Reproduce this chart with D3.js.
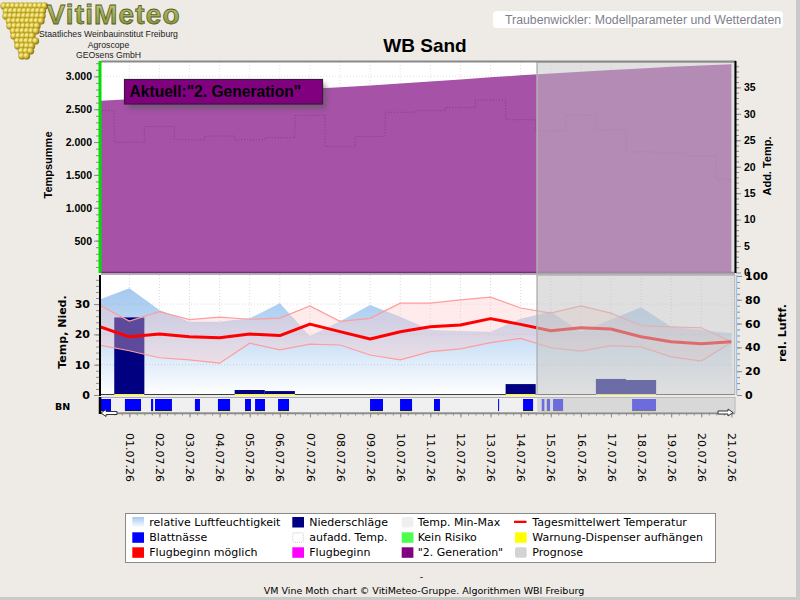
<!DOCTYPE html>
<html><head><meta charset="utf-8">
<script src="https://cdn.jsdelivr.net/npm/d3@7"></script>
<style>body{margin:0;background:#eeebe6;overflow:hidden} svg{display:block}</style>
</head><body>
<svg id="c" width="800" height="600"></svg>
<script>
// ---------------- DATA ----------------
const dates = ["30.06.26","01.07.26","02.07.26","03.07.26","04.07.26","05.07.26","06.07.26","07.07.26","08.07.26","09.07.26","10.07.26","11.07.26","12.07.26","13.07.26","14.07.26","15.07.26","16.07.26","17.07.26","18.07.26","19.07.26","20.07.26","21.07.26"];
const tickDates = dates.slice(1);
const humidity = [80,89.7,71.4,61.6,61.6,64.4,77,49.6,62,75.6,65.8,54.6,53.8,53.2,64,70,53.2,63.5,73.7,57.4,54.6,51.8];
const tempMean = [22.6,19.2,20.1,19.2,18.9,20.1,19.6,23.4,20.9,18.5,20.9,22.5,23.1,25.2,23.3,21.2,22.2,21.8,19.2,17.6,16.9,17.6];
const tempMax  = [29.7,24.4,27.5,24.9,25.7,25.0,25.4,29.4,24.3,25.3,30.3,30.3,31.4,32.3,28.7,27.0,29.4,27.0,22.9,22.5,22.2,17.6];
const tempMin  = [16.5,14.6,12.3,11.6,10.5,17.1,14.9,16.8,16.5,13.2,11.6,14.3,15.2,17.3,18.7,15.6,14.5,16.3,15.9,12.6,11.2,17.4];
const precip   = [0,25.6,0,0,0,1.65,1.3,0,0,0,0,0,0,0,3.6,0,0,5.3,4.95,0,0,0];
const addTemp  = [30.6,24.6,27.6,25.1,25.8,25.1,25.5,29.7,23.8,25.7,30.3,30.6,31.2,32.6,28.9,26.8,29.7,27.0,22.8,22.6,22.1,17.6];
const tempSum  = [2628,2653,2680,2705,2731,2756,2782,2811,2835,2861,2891,2922,2953,2986,3015,3042,3071,3098,3121,3144,3166,3184];
const leafWetness = [
 ["30.06.26 01:26","30.06.26 09:25"],["30.06.26 20:30","01.07.26 09:20"],["01.07.26 17:20","01.07.26 19:00"],
 ["01.07.26 20:30","02.07.26 10:00"],["03.07.26 04:20","03.07.26 08:20"],["03.07.26 22:40","04.07.26 08:20"],
 ["04.07.26 20:15","05.07.26 01:00"],["05.07.26 04:15","05.07.26 12:10"],["05.07.26 22:35","06.07.26 07:20"],
 ["08.07.26 23:55","09.07.26 10:15"],["09.07.26 23:50","10.07.26 09:25"],["11.07.26 02:55","11.07.26 07:40"],
 ["13.07.26 06:00","13.07.26 06:50"],["14.07.26 01:55","14.07.26 09:55"],["14.07.26 16:50","14.07.26 18:55"],
 ["14.07.26 20:50","14.07.26 23:25"],["15.07.26 01:50","15.07.26 09:50"],["17.07.26 16:50","18.07.26 11:55"]];
const forecastStart = "14.07.26 13:05";
const xDomain = ["30.06.26 01:26","21.07.26 02:53"];
const tsTicks = [500,1000,1500,2000,2500,3000];
const addTicks = [0,5,10,15,20,25,30,35];
const tTicks = [0,10,20,30];
const hTicks = [0,20,40,60,80,100];
const title = "WB Sand";
const headerText = "Traubenwickler: Modellparameter und Wetterdaten";
const annotation = "Aktuell:\"2. Generation\"";
const legendItems = [
 ["relative Luftfeuchtigkeit","grad"],["Blattnässe","#0000ff"],["Flugbeginn möglich","#ff0000"],
 ["Niederschläge","#000080"],["aufadd. Temp.","dotted"],["Flugbeginn","#ff00ff"],
 ["Temp. Min-Max","#efefef"],["Kein Risiko","#4cff4c"],["\"2. Generation\"","#800080"],
 ["Tagesmittelwert Temperatur","line"],["Warnung-Dispenser aufhängen","#ffff00"],["Prognose","#d3d3d3"]];

// ---------------- SETUP ----------------
const pD = d3.timeParse("%d.%m.%y"), pDT = d3.timeParse("%d.%m.%y %H:%M");
const day = dates.map(pD);
const svg = d3.select("#c");
const defs = svg.append("defs");
const L = 101, R = 735;
const TOP = [62, 273.5], MID = [275, 395], BN = [397, 413];
const x = d3.scaleTime().domain(xDomain.map(pDT)).range([L, R]);
const yTS = d3.scaleLinear().domain([0, 3218]).range([TOP[1], TOP[0]]);
const yAdd = d3.scaleLinear().domain([0, 39.8]).range([272.5, TOP[0]]);
const yT = d3.scaleLinear().domain([0, 39.6]).range([MID[1], MID[0]]);
const yH = d3.scaleLinear().domain([0, 100.8]).range([MID[1], MID[0]]);
const fDE = d3.formatLocale({decimal:",",thousands:".",grouping:[3],currency:["","€"]}).format(",");
const xf = x(pDT(forecastStart));
const half = d => d3.timeHour.offset(d, 12), mhalf = d => d3.timeHour.offset(d, -12);

defs.append("clipPath").attr("id","clipTop").append("rect").attr("x",L).attr("y",TOP[0]).attr("width",R-L).attr("height",TOP[1]-TOP[0]);
defs.append("clipPath").attr("id","clipMid").append("rect").attr("x",L).attr("y",MID[0]).attr("width",R-L).attr("height",MID[1]-MID[0]);
defs.append("clipPath").attr("id","clipBN").append("rect").attr("x",L).attr("y",BN[0]).attr("width",R-L).attr("height",BN[1]-BN[0]);
const gr = defs.append("linearGradient").attr("id","hum").attr("gradientUnits","userSpaceOnUse").attr("x1",0).attr("x2",0).attr("y1",284).attr("y2",MID[1]);
gr.append("stop").attr("offset","0").attr("stop-color","#a3c8ef");
gr.append("stop").attr("offset","0.35").attr("stop-color","#b9d5f3");
gr.append("stop").attr("offset","1").attr("stop-color","#ffffff");
const gr2 = defs.append("linearGradient").attr("id","humLeg").attr("x1",0).attr("x2",0).attr("y1",0).attr("y2",1);
gr2.append("stop").attr("offset","0").attr("stop-color","#a6caef");
gr2.append("stop").attr("offset","1").attr("stop-color","#ffffff");
const sh = defs.append("filter").attr("id","shadow").attr("x","-20%").attr("y","-50%").attr("width","140%").attr("height","200%");
sh.append("feGaussianBlur").attr("stdDeviation",2.5);
const grape = defs.append("radialGradient").attr("id","grape").attr("cx","35%").attr("cy","35%").attr("r","65%");
grape.append("stop").attr("offset","0").attr("stop-color","#fff8b0");
grape.append("stop").attr("offset","0.5").attr("stop-color","#d9c23a");
grape.append("stop").attr("offset","1").attr("stop-color","#8a7414");
const vmg = defs.append("linearGradient").attr("id","vm").attr("x1",0).attr("x2",0).attr("y1",0).attr("y2",1);
vmg.append("stop").attr("offset","0").attr("stop-color","#c7cf86");
vmg.append("stop").attr("offset","1").attr("stop-color","#7b8a2e");

// page border
svg.append("rect").attr("x",796).attr("y",0).attr("width",4).attr("height",600).attr("fill","#c9c9c9");
svg.append("rect").attr("x",0).attr("y",597).attr("width",800).attr("height",3).attr("fill","#c9c9c9");

// ---------------- LOGO ----------------
const lg = svg.append("g");
const rows = [[4,20],[9,19],[14,18],[19,16],[24,14],[29,12],[34,10],[39,8],[44,6],[49,4],[54,2]];
rows.forEach(([cy,n],ri)=>{
  const w = n*2; for(let i=0;i<=Math.max(1,Math.round(w/4.5));i++){
    const cx = 24 - w/2 + i*4.5 + (ri%2?1.5:0);
    lg.append("circle").attr("cx",cx).attr("cy",cy+2).attr("r",3.6).attr("fill","url(#grape)").attr("stroke","#9c8420").attr("stroke-width",0.3);
  }});
lg.append("text").attr("x",113).attr("y",24).attr("text-anchor","middle").attr("font-family","Liberation Sans, Arial").attr("font-weight","bold").attr("font-size",28)
  .attr("textLength",133).attr("fill","url(#vm)").attr("stroke","#56601c").attr("stroke-width",0.8).text("VitiMeteo");
[["Staatliches Weinbauinstitut Freiburg",37],["Agroscope",47.5],["GEOsens GmbH",58]].forEach(([t,yy])=>{
  lg.append("text").attr("x",108.5).attr("y",yy).attr("text-anchor","middle").attr("font-family","Liberation Sans, Arial").attr("font-size",8.7).attr("fill","#222").text(t);});

// header box
svg.append("rect").attr("x",493).attr("y",11).attr("width",290).attr("height",17).attr("rx",4).attr("fill","#fff");
svg.append("text").attr("x",505).attr("y",24).attr("font-family","Liberation Sans, Arial").attr("font-size",12.3).attr("fill","#7f7f8c").text(headerText);
// title
svg.append("text").attr("x",425).attr("y",52).attr("text-anchor","middle").attr("font-family","Liberation Sans, Arial").attr("font-weight","bold").attr("font-size",19).attr("fill","#000").text(title);

// ---------------- TOP PANEL ----------------
svg.append("rect").attr("x",L).attr("y",TOP[0]).attr("width",R-L).attr("height",TOP[1]-TOP[0]).attr("fill","#fff");
const gTop = svg.append("g").attr("clip-path","url(#clipTop)");
gTop.append("path").attr("fill","#a552a7")
  .attr("d", d3.area().x(d=>x(d)).y0(yTS(0)).y1((d,i)=>yTS(tempSum[i]))(day));
gTop.append("path").attr("fill","none").attr("stroke","#6e2a70").attr("stroke-opacity",0.55).attr("stroke-width",1).attr("stroke-dasharray","1,2")
  .attr("d", d3.line().curve(d3.curveStep).x(d=>x(d)).y((d,i)=>yAdd(addTemp[i]))(day));
// grid
gTop.selectAll(".gv").data(tickDates.map(pD)).join("line").attr("x1",d=>x(d)).attr("x2",d=>x(d)).attr("y1",TOP[0]).attr("y2",TOP[1])
  .attr("stroke","rgba(120,120,120,0.22)").attr("stroke-dasharray","1,2");
gTop.selectAll(".gh").data(tsTicks).join("line").attr("x1",L).attr("x2",R).attr("y1",d=>yTS(d)).attr("y2",d=>yTS(d))
  .attr("stroke","rgba(120,120,120,0.22)").attr("stroke-dasharray","1,2");
gTop.append("line").attr("x1",L).attr("x2",R).attr("y1",272.5).attr("y2",272.5).attr("stroke","#7a2a7c").attr("stroke-width",1.5);
// forecast overlay
gTop.append("rect").attr("x",xf).attr("y",TOP[0]).attr("width",R-xf).attr("height",TOP[1]-TOP[0]).attr("fill","rgba(196,196,196,0.5)").attr("stroke","#b4b4b4").attr("stroke-width",1.5);
// frame
svg.append("line").attr("x1",L).attr("x2",R+1).attr("y1",61.5).attr("y2",61.5).attr("stroke","#8a8a8a").attr("stroke-width",2);

// annotation
svg.append("rect").attr("x",128).attr("y",84).attr("width",198).attr("height",24.5).attr("fill","#555").attr("opacity",0.55).attr("filter","url(#shadow)");
svg.append("rect").attr("x",124.5).attr("y",79.5).attr("width",198).attr("height",24.5).attr("fill","#800080").attr("stroke","#3a1a3a").attr("stroke-width",1.2);
svg.append("text").attr("x",129.5).attr("y",97).attr("font-family","Liberation Sans, Arial").attr("font-weight","bold").attr("font-size",15.6).attr("fill","#000").text(annotation);

// ---------------- MID PANEL ----------------
svg.append("rect").attr("x",L).attr("y",MID[0]).attr("width",R-L).attr("height",MID[1]-MID[0]).attr("fill","#fff");
const gMid = svg.append("g").attr("clip-path","url(#clipMid)");
gMid.selectAll(".gv").data(tickDates.map(pD)).join("line").attr("x1",d=>x(d)).attr("x2",d=>x(d)).attr("y1",MID[0]).attr("y2",MID[1])
  .attr("stroke","#d8d8d8").attr("stroke-dasharray","1,2");
gMid.append("path").attr("fill","url(#hum)")
  .attr("d", d3.area().x(d=>x(d)).y0(yH(0)).y1((d,i)=>yH(humidity[i]))(day));
gMid.selectAll(".gh").data(tTicks.slice(1)).join("line").attr("x1",L).attr("x2",R).attr("y1",d=>yT(d)).attr("y2",d=>yT(d))
  .attr("stroke","rgba(150,150,150,0.35)").attr("stroke-dasharray","1,2");
const pr = day.map((d,i)=>({d,v:precip[i]})).filter(o=>o.v>0);
gMid.selectAll(".bar").data(pr).join("rect").attr("x",o=>x(mhalf(o.d))).attr("width",o=>x(half(o.d))-x(mhalf(o.d)))
  .attr("y",o=>yT(o.v)).attr("height",o=>yT(0)-yT(o.v)).attr("fill","#000080");
gMid.append("path").attr("fill","rgb(255,200,200)").attr("fill-opacity",0.37)
  .attr("d", d3.area().x(d=>x(d)).y0((d,i)=>yT(tempMin[i])).y1((d,i)=>yT(tempMax[i]))(day));
[tempMin,tempMax].forEach(arr=>gMid.append("path").attr("fill","none").attr("stroke","#ff9c9c").attr("stroke-width",1.2)
  .attr("d", d3.line().x(d=>x(d)).y((d,i)=>yT(arr[i]))(day)));
gMid.append("path").attr("fill","none").attr("stroke","#ff0000").attr("stroke-width",3).attr("stroke-linejoin","round")
  .attr("d", d3.line().x(d=>x(d)).y((d,i)=>yT(tempMean[i]))(day));
gMid.append("line").attr("x1",L).attr("x2",R).attr("y1",395).attr("y2",395).attr("stroke","#000").attr("stroke-width",1.6);
gMid.selectAll(".yb").data(pr).join("line").attr("x1",o=>x(mhalf(o.d))).attr("x2",o=>x(half(o.d))).attr("y1",394.5).attr("y2",394.5).attr("stroke","#ffff00").attr("stroke-width",1);
gMid.append("rect").attr("x",xf).attr("y",MID[0]).attr("width",R-xf).attr("height",MID[1]-MID[0]+1).attr("fill","rgba(196,196,196,0.55)").attr("stroke","#b4b4b4").attr("stroke-width",1.5);
svg.append("line").attr("x1",L).attr("x2",R).attr("y1",274).attr("y2",274).attr("stroke","#a0a0a0").attr("stroke-width",1.5);

// ---------------- BN STRIP ----------------
svg.append("rect").attr("x",L).attr("y",BN[0]+0.5).attr("width",R-L).attr("height",BN[1]-BN[0]-1).attr("fill","#f0f0f0").attr("stroke","#b0b0b0");
const gBN = svg.append("g").attr("clip-path","url(#clipBN)");
gBN.selectAll(".bn").data(leafWetness).join("rect").attr("x",d=>x(pDT(d[0]))).attr("width",d=>Math.max(1,x(pDT(d[1]))-x(pDT(d[0]))))
  .attr("y",399).attr("height",12.5).attr("fill","#0000ff");
gBN.selectAll(".bny").data(leafWetness).join("line").attr("x1",d=>x(pDT(d[0]))).attr("x2",d=>x(pDT(d[0]))+Math.max(1,x(pDT(d[1]))-x(pDT(d[0]))))
  .attr("y1",411.5).attr("y2",411.5).attr("stroke","#ffff00").attr("stroke-width",1);
gBN.append("rect").attr("x",xf).attr("y",BN[0]).attr("width",R-xf).attr("height",BN[1]-BN[0]).attr("fill","rgba(196,196,196,0.55)");
svg.append("line").attr("x1",100).attr("x2",100).attr("y1",397).attr("y2",414).attr("stroke","#000").attr("stroke-width",2.5);

// ---------------- AXES ----------------
function styleAxis(g){ g.select(".domain").remove(); g.selectAll(".tick line").attr("stroke","#8c8c8c"); return g; }
styleAxis(svg.append("g").attr("transform","translate(99,0)").call(d3.axisLeft(yTS).tickValues(d3.range(100,3201,100)).tickSize(3).tickFormat("")));
styleAxis(svg.append("g").attr("transform","translate(99,0)").call(d3.axisLeft(yTS).tickValues(tsTicks).tickSize(5).tickPadding(2).tickFormat(fDE)))
  .selectAll("text").attr("font-family","Liberation Sans, Arial").attr("font-weight","bold").attr("font-size",10.5).attr("fill","#000");
svg.append("line").attr("x1",100).attr("x2",100).attr("y1",61).attr("y2",273).attr("stroke","#00e000").attr("stroke-width",3);
styleAxis(svg.append("g").attr("transform","translate(736,0)").call(d3.axisRight(yAdd).tickValues(d3.range(1,40,1)).tickSize(3).tickFormat("")));
styleAxis(svg.append("g").attr("transform","translate(736,0)").call(d3.axisRight(yAdd).tickValues(addTicks).tickSize(5).tickPadding(3).tickFormat(d3.format("d"))))
  .selectAll("text").attr("font-family","Liberation Sans, Arial").attr("font-weight","bold").attr("font-size",10.5).attr("fill","#000");
svg.append("line").attr("x1",735.5).attr("x2",735.5).attr("y1",61).attr("y2",273).attr("stroke","#000").attr("stroke-width",2);
styleAxis(svg.append("g").attr("transform","translate(99,0)").call(d3.axisLeft(yT).tickValues(d3.range(2,40,2)).tickSize(3).tickFormat("")));
styleAxis(svg.append("g").attr("transform","translate(99,0)").call(d3.axisLeft(yT).tickValues(tTicks).tickSize(5).tickPadding(4).tickFormat(d3.format("d"))))
  .selectAll("text").attr("font-family","DejaVu Sans").attr("font-weight","bold").attr("font-size",11).attr("fill","#000");
svg.append("line").attr("x1",100).attr("x2",100).attr("y1",275).attr("y2",396).attr("stroke","#000").attr("stroke-width",2);
styleAxis(svg.append("g").attr("transform","translate(737,0)").call(d3.axisRight(yH).tickValues(d3.range(5,101,5)).tickSize(3).tickFormat("")));
styleAxis(svg.append("g").attr("transform","translate(737,0)").call(d3.axisRight(yH).tickValues(hTicks).tickSize(5).tickPadding(3).tickFormat(d3.format("d"))))
  .selectAll("text").attr("font-family","DejaVu Sans").attr("font-weight","bold").attr("font-size",11).attr("fill","#000");
svg.append("line").attr("x1",736.5).attr("x2",736.5).attr("y1",275).attr("y2",395).attr("stroke","#9fc4ec").attr("stroke-width",1.5);

// x axis
svg.append("line").attr("x1",L).attr("x2",R).attr("y1",413.5).attr("y2",413.5).attr("stroke","#8c8c8c").attr("stroke-width",1.5);
styleAxis(svg.append("g").attr("transform","translate(0,413)").call(d3.axisBottom(x).ticks(d3.timeHour.every(6)).tickSize(2.5).tickFormat("")));
const xa = styleAxis(svg.append("g").attr("transform","translate(0,413)").call(d3.axisBottom(x).tickValues(tickDates.map(pD)).tickSize(4.5).tickFormat(d3.timeFormat("%d.%m.%y"))));
xa.selectAll("text").attr("font-family","DejaVu Sans").attr("font-size",11).attr("fill","#000")
  .attr("text-anchor","start").attr("transform","translate(0,20) rotate(90)").attr("x",0).attr("y",0).attr("dy","0.35em");
const arr = (pts)=>svg.append("path").attr("d","M"+pts.map(p=>p.join(",")).join("L")+"Z").attr("fill","#fff").attr("stroke","#333").attr("stroke-width",1);
arr([[101,413],[106,409.5],[106,411.5],[117,411.5],[117,414.5],[106,414.5],[106,416.5]]);
arr([[733,412.5],[728,409],[728,411],[718,411],[718,414],[728,414],[728,416]]);

function vtitle(t,xx,yy,fam,fs){ svg.append("text").attr("transform",`translate(${xx},${yy}) rotate(-90)`).attr("text-anchor","middle").attr("dy","0.35em")
  .attr("font-family",fam).attr("font-weight","bold").attr("font-size",fs).attr("fill","#000").text(t); }
vtitle("Tempsumme",48.5,165,"Liberation Sans, Arial",11);
vtitle("Add. Temp.",767,166,"Liberation Sans, Arial",11);
vtitle("Temp, Nied.",62,332,"DejaVu Sans",11);
vtitle("rel. Luftf.",782,333,"DejaVu Sans",11);
svg.append("text").attr("x",55).attr("y",410).attr("font-family","DejaVu Sans").attr("font-weight","bold").attr("font-size",9.5).attr("fill","#000").text("BN");

// ---------------- LEGEND ----------------
svg.append("rect").attr("x",125.5).attr("y",513.5).attr("width",590).attr("height",49).attr("fill","#fff").attr("stroke","#8a8a8a");
const colSw = [132.3,292.3,401.7,515], colTx = [149.3,309.3,417.7,532.3], rowTop = [517,532.3,547.3], rowBase = [525.8,541.2,556.2];
legendItems.forEach(([t,s],i)=>{
  const c = Math.floor(i/3), r = i%3, sx = colSw[c], sy = rowTop[r];
  if (s==="line") svg.append("rect").attr("x",sx-1).attr("y",sy+3.7).attr("width",12.5).attr("height",2.3).attr("fill","#ff0000");
  else if (s==="dotted") svg.append("rect").attr("x",sx+0.5).attr("y",sy+0.5).attr("width",10.5).attr("height",9.5).attr("rx",1.5).attr("fill","#fff").attr("stroke","#c8c8c8").attr("stroke-dasharray","1,1");
  else if (s==="grad") svg.append("rect").attr("x",sx).attr("y",sy).attr("width",11.7).attr("height",10.5).attr("fill","url(#humLeg)");
  else svg.append("rect").attr("x",sx).attr("y",sy).attr("width",11.7).attr("height",10.5).attr("rx",(s==="#efefef"||s==="#d3d3d3")?2:0).attr("fill",s);
  svg.append("text").attr("x",colTx[c]).attr("y",rowBase[r]).attr("font-family","DejaVu Sans").attr("font-size",11).attr("fill","#000").text(t);
});
svg.append("text").attr("x",421.5).attr("y",580).attr("text-anchor","middle").attr("font-family","DejaVu Sans").attr("font-size",9.5).attr("fill","#000").text("-");
svg.append("text").attr("x",424).attr("y",594).attr("text-anchor","middle").attr("font-family","DejaVu Sans").attr("font-size",9.5).attr("fill","#000")
  .text("VM Vine Moth chart © VitiMeteo-Gruppe. Algorithmen WBI Freiburg");
</script>
</body></html>
